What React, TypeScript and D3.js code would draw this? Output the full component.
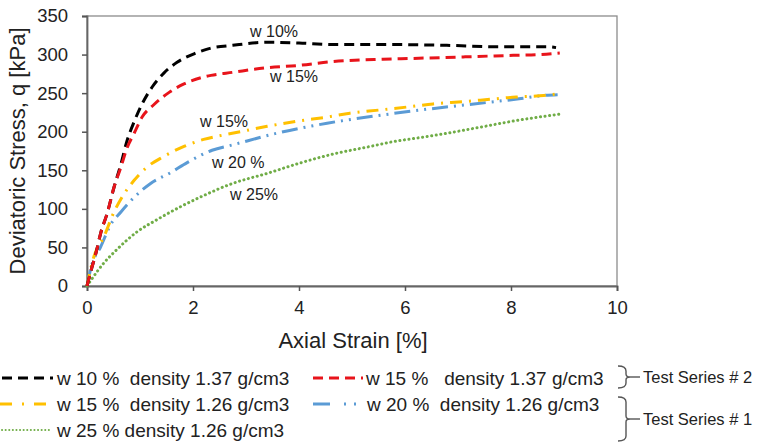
import React, { useRef, useEffect } from "react";
import * as d3 from "d3";

// strain [%] / deviatoric stress [kPa]
const w10d137Strain = [0, 0.08, 0.17, 0.26, 0.38, 0.51, 0.64, 0.75, 0.89, 1.04, 1.23, 1.45, 1.7, 2.02, 2.32, 2.75, 3.4, 4.0, 4.64, 5.58, 6.79, 7.74, 8.7, 8.85];
const w10d137Stress = [0, 21, 43, 69, 94, 128, 158, 187, 213, 236, 258, 276, 290, 301, 308, 312, 316, 315, 313, 313, 312, 310, 310, 309];

const w15d137Strain = [0, 0.08, 0.17, 0.26, 0.38, 0.51, 0.64, 0.75, 0.89, 1.04, 1.26, 1.55, 1.83, 2.15, 2.34, 2.75, 3.4, 4.0, 4.64, 5.58, 6.15, 7.1, 8.04, 8.55, 8.92];
const w15d137Stress = [0, 21, 43, 69, 94, 128, 154, 178, 198, 219, 235, 251, 262, 270, 273, 277, 283, 286, 291, 294, 295, 297, 299, 300, 302];

const w15d126Strain = [0, 0.13, 0.32, 0.51, 0.66, 0.89, 1.13, 1.45, 1.83, 2.2, 2.45, 2.89, 3.4, 4.0, 4.53, 4.96, 5.5, 6.04, 6.53, 7.1, 7.6, 8.1, 8.62, 8.88];
const w15d126Stress = [0, 38, 64, 96, 115, 137, 154, 168, 181, 190, 194, 200, 207, 214, 219, 224, 228, 232, 236, 239, 242, 245, 247, 249];

const w20d126Strain = [0, 0.08, 0.26, 0.45, 0.64, 0.89, 1.2, 1.58, 1.89, 2.36, 2.75, 3.58, 4.53, 5.5, 6.28, 7.3, 8.19, 8.62, 8.88];
const w20d126Stress = [0, 25, 51, 80, 96, 115, 133, 147, 160, 176, 183, 198, 211, 221, 228, 236, 243, 247, 248];

const w25d126Strain = [0, 0.08, 0.32, 0.56, 0.94, 1.32, 1.77, 2.13, 2.75, 3.4, 4.0, 4.64, 5.28, 5.85, 6.15, 6.79, 7.43, 8.06, 8.94];
const w25d126Stress = [0, 8, 30, 47, 70, 86, 103, 115, 133, 146, 159, 171, 180, 188, 191, 198, 206, 214, 223];

const xTicks = [0, 2, 4, 6, 8, 10];
const yTicks = [0, 50, 100, 150, 200, 250, 300, 350];

const legendLabels = [
  "w 10 %  density 1.37 g/cm3",
  "w 15 %   density 1.37 g/cm3",
  "w 15 %  density 1.26 g/cm3",
  "w 20 %  density 1.26 g/cm3",
  "w 25 % density 1.26 g/cm3",
];
const curveLabels = ["w 10%", "w 15%", "w 15%", "w 20 %", "w 25%"];
const groupLabels = ["Test Series # 2", "Test Series # 1"];

const FONT = "'Liberation Sans', Arial, sans-serif";

function App() {
  const ref = useRef<SVGSVGElement>(null);

  useEffect(() => {
    const [width, height] = [762, 443];
    const m = { left: 87, top: 16, right: 145, bottom: 157 };
    const pw = width - m.left - m.right;
    const ph = height - m.top - m.bottom;

    const x = d3.scaleLinear().domain([0, 10]).range([m.left, m.left + pw]);
    const y = d3.scaleLinear().domain([0, 350]).range([m.top + ph, m.top]);

    const svg = d3.select(ref.current);
    svg.selectAll("*").remove();
    svg.attr("width", width).attr("height", height).attr("font-family", FONT);

    svg.append("rect").attr("width", width).attr("height", height).attr("fill", "#fff");

    // plot frame
    svg
      .append("rect")
      .attr("x", m.left)
      .attr("y", m.top)
      .attr("width", pw)
      .attr("height", ph)
      .attr("fill", "none")
      .attr("stroke", "#8c8c8c")
      .attr("stroke-width", 1.3);

    const gx = svg.append("g").attr("transform", `translate(0,${m.top + ph})`);
    gx.call(d3.axisBottom(x).tickValues(xTicks).tickSize(5).tickPadding(10).tickFormat(d3.format("d")));
    const gy = svg.append("g").attr("transform", `translate(${m.left},0)`);
    gy.call(d3.axisLeft(y).tickValues(yTicks).tickSize(5).tickPadding(14).tickFormat(d3.format("d")));
    [gx, gy].forEach((g) => {
      g.select(".domain").attr("stroke", "#666").attr("stroke-width", 1.8);
      g.selectAll(".tick line").attr("stroke", "#555").attr("stroke-width", 1.5);
      g.selectAll(".tick text").attr("font-size", 18.5).attr("font-family", FONT).attr("fill", "#222");
    });

    svg
      .append("text")
      .attr("x", x(5) + 1)
      .attr("y", 348)
      .attr("text-anchor", "middle")
      .attr("font-size", 22)
      .attr("fill", "#222")
      .text("Axial Strain [%]");

    svg
      .append("text")
      .attr("transform", `translate(25,${m.top + ph / 2}) rotate(-90)`)
      .attr("text-anchor", "middle")
      .attr("font-size", 22)
      .attr("fill", "#222")
      .text("Deviatoric Stress, q [kPa]");

    const series = [
      { xs: w10d137Strain, ys: w10d137Stress, color: "#000000", dash: "10,6", w: 3 },
      { xs: w15d137Strain, ys: w15d137Stress, color: "#e8141b", dash: "10,6", w: 3 },
      { xs: w15d126Strain, ys: w15d126Stress, color: "#ffc000", dash: "12,7,2,7", w: 3 },
      { xs: w20d126Strain, ys: w20d126Stress, color: "#5b9bd5", dash: "16,6,2,6,2,6", w: 3 },
      { xs: w25d126Strain, ys: w25d126Stress, color: "#70ad47", dash: "0.1,4.5", w: 3 },
    ];

    const line = d3
      .line<[number, number]>()
      .x((d) => x(d[0]))
      .y((d) => y(d[1]))
      .curve(d3.curveMonotoneX);

    // draw in reverse so black/red sit on top like the original
    [4, 3, 2, 0, 1].forEach((i) => {
      const s = series[i];
      const pts = s.xs.map((v, j) => [v, s.ys[j]] as [number, number]);
      svg
        .append("path")
        .attr("d", line(pts))
        .attr("fill", "none")
        .attr("stroke", s.color)
        .attr("stroke-width", s.w)
        .attr("stroke-dasharray", s.dash)
        .attr("stroke-linecap", i === 4 ? "round" : "butt");
    });

    // curve annotations
    const annPos = [
      [250, 37],
      [270, 82],
      [200, 127],
      [212, 168],
      [230, 200],
    ];
    svg
      .append("g")
      .selectAll("text")
      .data(curveLabels)
      .join("text")
      .attr("x", (d, i) => annPos[i][0])
      .attr("y", (d, i) => annPos[i][1])
      .attr("font-size", 16)
      .attr("fill", "#222")
      .text((d) => d);

    // legend
    const leg = [
      { sx: 2, sw: 51, tx: 57, ty: 385 },
      { sx: 313, sw: 50, tx: 366, ty: 385 },
      { sx: 0, sw: 48, tx: 57, ty: 411 },
      { sx: 313, sw: 45, tx: 367, ty: 411 },
      { sx: 2, sw: 50, tx: 57, ty: 437 },
    ];
    const legDash = ["10,6", "10,6", "12,10,2,10", "17,14,2,8,2,8", "0.1,3.5"];
    const lg = svg.append("g");
    leg.forEach((p, i) => {
      const s = series[i];
      lg.append("line")
        .attr("x1", p.sx)
        .attr("x2", p.sx + p.sw)
        .attr("y1", p.ty - 7)
        .attr("y2", p.ty - 7)
        .attr("stroke", s.color)
        .attr("stroke-width", i === 4 ? 2 : 3)
        .attr("stroke-dasharray", legDash[i])
        .attr("stroke-linecap", i === 4 ? "round" : "butt");
      lg.append("text")
        .attr("x", p.tx)
        .attr("y", p.ty)
        .attr("font-size", 19)
        .attr("fill", "#222")
        .style("white-space", "pre")
        .text(legendLabels[i]);
    });

    // braces for test series groups
    const braces = [
      { top: 366, bot: 388 },
      { top: 397, bot: 441 },
    ];
    braces.forEach((b, i) => {
      const mid = (b.top + b.bot) / 2;
      const bx = 618;
      lg.append("path")
        .attr(
          "d",
          `M${bx},${b.top} Q${bx + 8},${b.top} ${bx + 8},${b.top + 5} V${mid - 3} Q${bx + 8},${mid} ${bx + 12},${mid} Q${bx + 8},${mid} ${bx + 8},${mid + 3} V${b.bot - 5} Q${bx + 8},${b.bot} ${bx},${b.bot}`
        )
        .attr("fill", "none")
        .attr("stroke", "#555")
        .attr("stroke-width", 1.4);
      lg.append("line")
        .attr("x1", bx + 12)
        .attr("x2", bx + 22)
        .attr("y1", mid)
        .attr("y2", mid)
        .attr("stroke", "#555")
        .attr("stroke-width", 1.4);
      lg.append("text")
        .attr("x", bx + 25)
        .attr("y", mid + 6)
        .attr("font-size", 16.5)
        .attr("fill", "#222")
        .text(groupLabels[i]);
    });
  }, []);

  return <svg ref={ref} style={{ position: "absolute", left: 0, top: 0 }} />;
}

export default App;
